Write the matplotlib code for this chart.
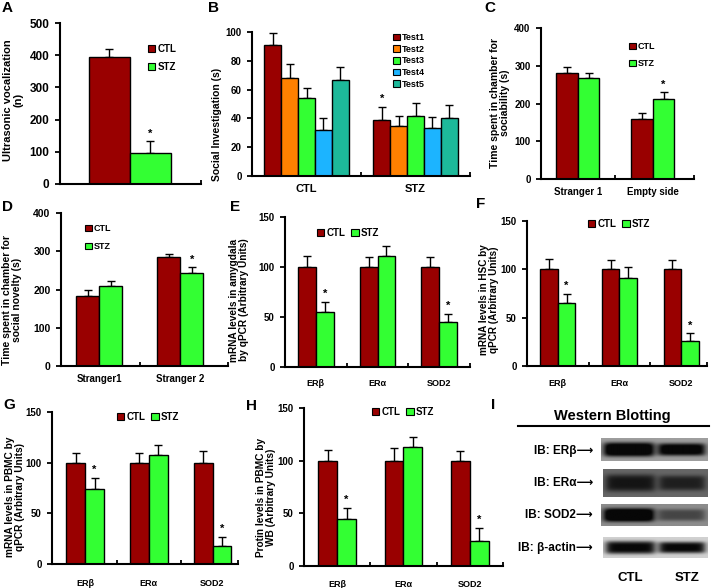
import matplotlib
matplotlib.use('Agg')
import matplotlib.pyplot as plt
import numpy as np
from matplotlib.patches import Patch

plt.rcParams['font.family'] = ['Liberation Sans', 'DejaVu Sans']
plt.rcParams['font.weight'] = 'bold'

W, H = 713, 588
fig = plt.figure(figsize=(W/100, H/100), dpi=100)

RED = '#990000'
GREEN = '#33FF33'
test_colors = ['#990000', '#FF8000', '#33FF33', '#1CB4FF', '#1DB99A']

# ---- data ----
a_ctl, a_ctl_err = [395], [23]
a_stz, a_stz_err = [97], [36]

b_groups = ['CTL', 'STZ']
b_tests = ['Test1', 'Test2', 'Test3', 'Test4', 'Test5']
b_ctl = [91, 68, 54, 32, 67]
b_ctl_err = [8, 10, 7, 8, 9]
b_stz = [39, 35, 42, 33, 40]
b_stz_err = [9, 7, 9, 8, 9]

c_groups = ['Stranger 1', 'Empty side']
c_ctl, c_ctl_err = [280, 160], [17, 15]
c_stz, c_stz_err = [268, 212], [12, 18]

d_groups = ['Stranger1', 'Stranger 2']
d_ctl, d_ctl_err = [183, 285], [15, 8]
d_stz, d_stz_err = [210, 243], [12, 15]

genes = ['ERβ', 'ERα', 'SOD2']
e_ctl, e_ctl_err = [100, 100, 100], [11, 10, 10]
e_stz, e_stz_err = [55, 111, 45], [10, 10, 8]
f_ctl, f_ctl_err = [100, 100, 100], [11, 10, 10]
f_stz, f_stz_err = [65, 91, 26], [10, 11, 8]
g_ctl, g_ctl_err = [100, 100, 100], [10, 10, 12]
g_stz, g_stz_err = [74, 108, 18], [11, 9, 9]
h_ctl, h_ctl_err = [100, 100, 100], [10, 12, 9]
h_stz, h_stz_err = [45, 113, 24], [10, 9, 12]

blot_rows = ['IB: ERβ⟶', 'IB: ERα⟶', 'IB: SOD2⟶', 'IB: β-actin⟶']
blot_ctl = [0.95, 0.4, 0.9, 1.0]
blot_stz = [0.85, 0.35, 0.35, 1.0]
blot_bg = [0.62, 0.40, 0.55, 0.82]


def px_axes(l, r, t, b):
    return fig.add_axes([l/W, 1-b/H, (r-l)/W, (b-t)/H])


def draw_bars(ax, series, errs, colors, width, stars):
    n = len(series)
    x = np.arange(len(series[0]))
    for i in range(n):
        pos = x + (i-(n-1)/2)*width
        ax.bar(pos, series[i], width, color=colors[i], edgecolor='black', linewidth=1.0, zorder=2)
        ax.errorbar(pos, series[i], yerr=[np.zeros(len(pos)), errs[i]], fmt='none',
                    ecolor='black', elinewidth=1.0, capsize=3, capthick=1.0, zorder=1)
        for p, v, e, s in zip(pos, series[i], errs[i], stars[i]):
            if s:
                ax.annotate('*', (p, v+e), xytext=(0, 2), textcoords='offset points',
                            ha='center', va='bottom', fontsize=8)


def style(ax, xlim, ylim, yticks, cats, ysize=7, xsize=7, xpad=5):
    for s in ['top', 'right']:
        ax.spines[s].set_visible(False)
    for s in ['left', 'bottom']:
        ax.spines[s].set_linewidth(1.5)
    ax.set_xlim(xlim)
    ax.set_ylim(ylim)
    ax.set_yticks(yticks)
    ax.tick_params(axis='y', direction='out', length=3.5, width=1.3, labelsize=ysize, pad=4)
    n = len(cats) if cats else 1
    bounds = [xlim[0]] + [i+0.5 for i in range(n-1)] + [xlim[1]]
    ax.set_xticks(bounds)
    ax.set_xticklabels([])
    ax.tick_params(axis='x', which='major', direction='in', length=3, width=1.3)
    if cats:
        ax.set_xticks(range(n), minor=True)
        ax.set_xticklabels(cats, minor=True)
        ax.tick_params(axis='x', which='minor', length=0, labelsize=xsize, pad=xpad)


def legend(ax, labels, colors, x, y, ncol=1, size=7, spacing=0.8):
    handles = [Patch(facecolor=c, edgecolor='black', linewidth=0.8) for c in colors]
    ax.legend(handles, labels, loc='upper left', bbox_to_anchor=(x/W, 1-y/H),
              bbox_transform=fig.transFigure, frameon=False, ncol=ncol,
              fontsize=size, handlelength=0.75, handleheight=0.75, handletextpad=0.25,
              borderpad=0, borderaxespad=0, labelspacing=spacing, columnspacing=0.6)


def ylab(text, x, y, size=7.5):
    fig.text(x/W, 1-y/H, text, rotation=90, ha='center', va='center', fontsize=size,
             multialignment='center', linespacing=1.05)


def letter(t, x, y):
    fig.text(x/W, 1-y/H, t, fontsize=11, ha='left', va='center')


# ---- A ----
ax = px_axes(60, 201, 23, 184)
draw_bars(ax, [a_ctl, a_stz], [a_ctl_err, a_stz_err], [RED, GREEN], 1.0, [[False], [True]])
style(ax, (-1.7, 1.74), (0, 500), range(0, 501, 100), None, ysize=8.5)
ax.set_xticks([1.74])
legend(ax, ['CTL', 'STZ'], [RED, GREEN], 148, 44, spacing=0.85)
ylab('Ultrasonic vocalization\n(n)', 13, 100, size=8)
letter('A', 2, 8)

# ---- B ----
ax = px_axes(252, 470, 32, 176)
draw_bars(ax, [[b_ctl[i], b_stz[i]] for i in range(5)],
          [[b_ctl_err[i], b_stz_err[i]] for i in range(5)], test_colors, 0.155,
          [[False, i == 0] for i in range(5)])
style(ax, (-0.5, 1.5), (0, 100), range(0, 101, 20), b_groups, ysize=7, xsize=8, xpad=6)
legend(ax, b_tests, test_colors, 393, 33, size=6.5, spacing=0.3)
ylab('Social Investigation (s)', 217, 124)
letter('B', 208, 8)

# ---- C ----
ax = px_axes(541, 694, 28, 179)
draw_bars(ax, [c_ctl, c_stz], [c_ctl_err, c_stz_err], [RED, GREEN], 0.287,
          [[False, False], [False, True]])
style(ax, (-0.49, 1.55), (0, 400), range(0, 401, 100), c_groups, ysize=7, xsize=7, xpad=6)
legend(ax, ['CTL', 'STZ'], [RED, GREEN], 629, 42, size=6.5, spacing=0.9)
ylab('Time spent in chamber for\nsociability (s)', 500, 103)
letter('C', 484, 8)

# ---- D ----
ax = px_axes(61, 228, 213, 366)
draw_bars(ax, [d_ctl, d_stz], [d_ctl_err, d_stz_err], [RED, GREEN], 0.285,
          [[False, False], [False, True]])
style(ax, (-0.47, 1.59), (0, 400), range(0, 401, 100), d_groups, ysize=7.5, xsize=7, xpad=6)
legend(ax, ['CTL', 'STZ'], [RED, GREEN], 85, 224, size=6.5, spacing=1.0)
ylab('Time spent in chamber for\nsocial novelty (s)', 12, 300)
letter('D', 2, 207)

# ---- E ----
ax = px_axes(285, 470, 217, 367)
draw_bars(ax, [e_ctl, e_stz], [e_ctl_err, e_stz_err], [RED, GREEN], 0.29,
          [[False]*3, [True, False, True]])
style(ax, (-0.5, 2.5), (0, 150), [0, 50, 100, 150], genes, ysize=7, xsize=6.5, xpad=9)
legend(ax, ['CTL', 'STZ'], [RED, GREEN], 317, 228, ncol=2, size=7)
ylab('mRNA levels in amygdala\nby qPCR (Arbitrary Units)', 239, 300, size=7.3)
letter('E', 230, 207)

# ---- F ----
ax = px_axes(527, 707, 221, 366)
draw_bars(ax, [f_ctl, f_stz], [f_ctl_err, f_stz_err], [RED, GREEN], 0.285,
          [[False]*3, [True, False, True]])
style(ax, (-0.5, 2.42), (0, 150), [0, 50, 100, 150], genes, ysize=7, xsize=6.5, xpad=9)
legend(ax, ['CTL', 'STZ'], [RED, GREEN], 588, 219, ncol=2, size=7)
ylab('mRNA levels in HSC by\nqPCR (Arbitrary Units)', 489, 300, size=7.2)
letter('F', 476, 204)

# ---- G ----
ax = px_axes(52, 238, 412, 564)
draw_bars(ax, [g_ctl, g_stz], [g_ctl_err, g_stz_err], [RED, GREEN], 0.295,
          [[False]*3, [True, False, True]])
style(ax, (-0.52, 2.4), (0, 150), [0, 50, 100, 150], genes, ysize=7, xsize=6.5, xpad=11)
legend(ax, ['CTL', 'STZ'], [RED, GREEN], 117, 412, ncol=2, size=7)
ylab('mRNA levels in PBMC by\nqPCR (Arbitrary Units)', 15, 497, size=7.3)
letter('G', 3, 405)

# ---- H ----
ax = px_axes(304, 503, 408, 566)
draw_bars(ax, [h_ctl, h_stz], [h_ctl_err, h_stz_err], [RED, GREEN], 0.285,
          [[False]*3, [True, False, True]])
style(ax, (-0.5, 2.5), (0, 150), [0, 50, 100, 150], genes, ysize=7, xsize=6.5, xpad=10)
legend(ax, ['CTL', 'STZ'], [RED, GREEN], 372, 407, ncol=2, size=7)
ylab('Protin levels in PBMC by\nWB (Arbitrary Units)', 266, 497, size=7.3)
letter('H', 246, 406)

# ---- I : western blot ----
letter('I', 491, 405)
fig.text(612/W, 1-416/H, 'Western Blotting', fontsize=10.5, ha='center', va='center')
fig.add_artist(plt.Line2D([518/W, 709/W], [1-426/H, 1-426/H], color='black', lw=1.5))
strips = [(601, 438, 461), (603, 469, 497), (601, 504, 526), (603, 537, 558)]
label_y = [451, 483, 515, 548]
for k, (x0, t, b) in enumerate(strips):
    bax = px_axes(x0, 708, t, b)
    nx, ny = 216, 46
    xx = np.linspace(0, 1, nx)
    yy = np.linspace(-1, 1, ny)[:, None]
    def band(a, b_, amp, thick):
        prof_x = 1/(1+np.exp(-(xx-a)/0.02)) * 1/(1+np.exp((xx-b_)/0.02))
        return amp * np.exp(-(np.abs(yy)/thick)**4) * prof_x
    img = blot_bg[k] - 0.8*band(0.03, 0.49, blot_ctl[k], 0.62) - 0.8*band(0.54, 0.97, blot_stz[k], 0.55)
    bax.imshow(np.clip(img, 0.03, 1), cmap='gray', vmin=0, vmax=1, aspect='auto',
               interpolation='bilinear')
    bax.set_axis_off()
    fig.text(593/W, 1-label_y[k]/H, blot_rows[k], fontsize=8.5, ha='right', va='center')
fig.text(630/W, 1-578/H, 'CTL', fontsize=9.5, ha='center', va='center')
fig.text(687/W, 1-578/H, 'STZ', fontsize=9.5, ha='center', va='center')

fig.savefig('out.png', dpi=100)
